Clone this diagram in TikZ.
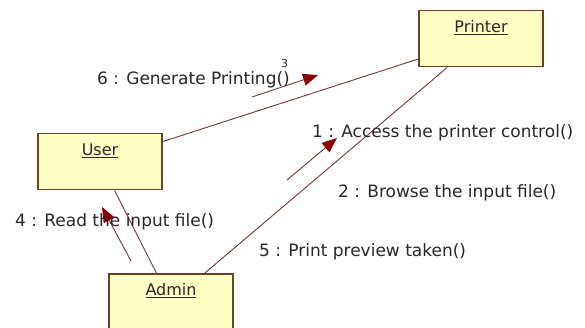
\documentclass[tikz,border=0pt]{standalone}
\usepackage{fontspec}
\setmainfont{DejaVu Sans}
\usetikzlibrary{arrows.meta}
\tikzset{>=latex}
\definecolor{boxfill}{RGB}{255,255,196}
\definecolor{boxline}{RGB}{110,65,35}
\definecolor{linkcol}{RGB}{115,55,55}
\definecolor{tipred}{RGB}{140,0,0}
\definecolor{txt}{RGB}{40,40,40}
\tikzset{
	obj/.style={draw=boxline, fill=boxfill, line width=1.5pt, inner sep=0pt,
		text width=124pt, align=center, text height=22pt, text depth=34pt,
		font=\fontsize{16}{18}\selectfont, text=txt},
	link/.style={color=linkcol, line width=0.9pt},
	msg/.style={color=linkcol, line width=0.9pt, -{Triangle[length=15pt,width=12pt,color=tipred]}},
	msglabel/.style={anchor=west, inner sep=0pt, font=\fontsize{17}{19}\selectfont, text=txt}
}

\begin{document}
\begin{tikzpicture}[x=1pt, y=-1pt]
	\useasboundingbox (0,0) rectangle (585,328);

	\node[obj, anchor=north] (printer) at (481,10) {\underline{Printer}};
	\node[obj, anchor=north] (user) at (100,133) {\underline{User}};
	\node[obj, anchor=north] (admin) at (171,273) {\underline{Admin}};

	\draw[link] (user) -- (printer);
	\draw[link] (printer) -- (admin);
	\draw[link] (user) -- (admin);

	% messages
	\coordinate (m6s) at (252,97);
	\coordinate (m6e) at (318,75);
	\coordinate (m1s) at (287,180);
	\coordinate (m1e) at (337,138);
	\coordinate (m4s) at (131,261);
	\coordinate (m4e) at (102,207);
	\draw[msg] (m6s) -- (m6e);
	\draw[msg] (m1s) -- (m1e);
	\draw[msg] (m4s) -- (m4e);

	\node[msglabel] (l6) at (97,80) {6 : Generate Printing()};
	\node[msglabel, font=\fontsize{11}{12}\selectfont] (l3) at (281,63) {3};
	\node[msglabel] (l1) at (312,133) {1 : Access the printer control()};
	\node[msglabel] (l2) at (338,193) {2 : Browse the input file()};
	\node[msglabel] (l4) at (15,222) {4 : Read the input file()};
	\node[msglabel] (l5) at (259,252) {5 : Print preview taken()};
\end{tikzpicture}
\end{document}
